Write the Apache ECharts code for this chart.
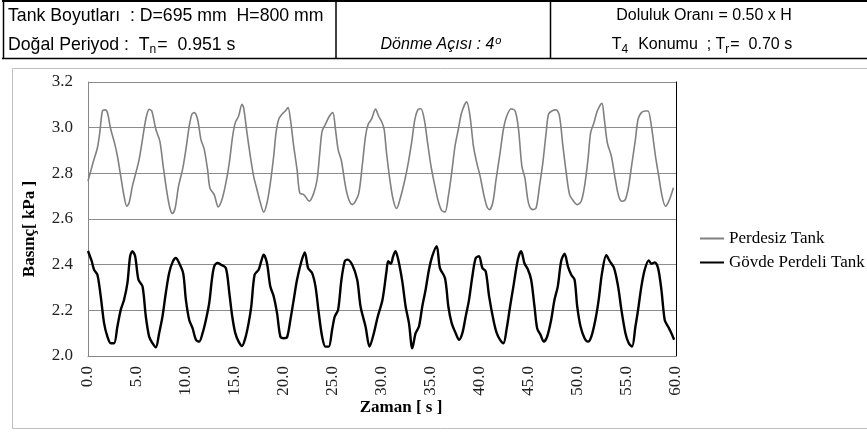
<!DOCTYPE html>
<html>
<head>
<meta charset="utf-8">
<script src="https://cdn.jsdelivr.net/npm/echarts@6/dist/echarts.min.js"></script>
<style>
  html, body { margin: 0; padding: 0; background: #fff; }
  #chart { width: 867px; height: 434px; }
</style>
</head>
<body>
<div id="chart"></div>
<script>
// Time axis (s) and pressure (kPa) samples for each tank configuration
const perdesizTime = [0.0,0.51,0.96,1.2,1.47,1.74,1.98,2.32,2.66,3.0,3.34,3.68,3.96,4.19,4.53,4.88,5.22,5.56,5.9,6.24,6.51,6.92,7.33,7.67,8.01,8.35,8.62,8.9,9.24,9.65,9.99,10.33,10.6,10.84,11.18,11.52,11.86,12.2,12.44,12.88,13.29,13.67,14.07,14.42,14.76,15.03,15.37,15.71,15.88,16.22,16.56,16.9,17.24,17.59,17.93,18.27,18.61,18.95,19.19,19.46,19.8,20.14,20.41,20.65,20.99,21.33,21.61,22.01,22.59,23.04,23.38,23.65,23.89,24.23,24.64,24.98,25.25,25.52,25.86,26.27,26.61,26.96,27.3,27.64,27.98,28.32,28.59,28.93,29.34,29.65,29.98,30.22,30.46,30.8,31.14,31.49,31.83,32.34,32.68,33.02,33.36,33.7,33.97,34.31,34.65,35.0,35.4,35.74,36.08,36.43,36.77,37.11,37.45,37.79,38.13,38.64,38.98,39.33,39.67,40.01,40.35,40.69,40.96,41.3,41.64,42.05,42.39,42.73,43.18,43.59,43.93,44.27,44.58,44.85,45.05,45.39,45.73,46.07,46.41,46.75,46.99,47.33,47.77,48.11,48.46,48.8,49.14,49.48,49.93,50.33,50.67,51.02,51.29,51.63,51.97,52.44,52.65,52.99,53.4,53.81,54.15,54.49,54.83,55.17,55.51,55.86,56.13,56.47,56.88,57.15,57.49,57.9,58.24,58.58,58.92,59.27,59.74];
const perdesizBasinc = [2.766,2.846,2.912,2.978,3.073,3.078,3.066,2.993,2.941,2.876,2.788,2.700,2.656,2.670,2.744,2.802,2.861,2.949,3.037,3.080,3.073,2.993,2.941,2.832,2.729,2.649,2.624,2.649,2.744,2.817,2.905,3.007,3.059,3.066,3.037,2.949,2.905,2.817,2.736,2.707,2.653,2.685,2.758,2.846,2.963,3.022,3.051,3.102,3.088,2.978,2.876,2.788,2.729,2.671,2.630,2.671,2.758,2.876,2.978,3.037,3.059,3.073,3.088,3.037,2.919,2.817,2.714,2.707,2.678,2.714,2.773,2.890,2.985,3.015,3.051,3.066,2.993,2.905,2.854,2.744,2.685,2.663,2.678,2.714,2.832,2.963,3.015,3.037,3.081,3.051,3.025,2.993,2.890,2.773,2.685,2.646,2.685,2.773,2.846,2.934,3.037,3.081,3.083,3.037,2.934,2.832,2.744,2.678,2.638,2.630,2.700,2.802,2.919,2.993,3.066,3.113,3.051,2.919,2.846,2.788,2.714,2.656,2.641,2.671,2.773,2.890,2.993,3.051,3.083,3.073,2.993,2.832,2.780,2.692,2.656,2.641,2.649,2.744,2.846,2.978,3.059,3.073,3.078,3.051,2.919,2.802,2.707,2.682,2.663,2.678,2.744,2.861,2.978,3.022,3.073,3.107,3.051,2.934,2.876,2.773,2.700,2.678,2.685,2.744,2.846,2.949,3.037,3.066,3.073,3.073,3.007,2.876,2.788,2.700,2.656,2.678,2.737];

const perdeliTime = [0.0,0.38,0.62,0.96,1.3,1.64,1.98,2.32,2.66,3.0,3.34,3.68,4.02,4.3,4.53,4.81,5.15,5.56,5.9,6.24,6.58,6.92,7.26,7.6,7.94,8.28,8.62,8.96,9.3,9.71,9.99,10.33,10.67,11.01,11.35,11.69,12.03,12.37,12.64,12.88,13.22,13.56,14.07,14.42,14.72,15.03,15.37,15.71,16.05,16.39,16.66,17.0,17.41,17.68,17.92,18.26,18.6,18.95,19.29,19.63,19.97,20.31,20.65,20.99,21.33,21.78,22.12,22.46,22.87,23.21,23.55,23.89,24.23,24.57,24.91,25.18,25.52,25.86,26.2,26.44,26.96,27.47,27.81,28.32,28.73,29.17,29.55,30.05,30.46,30.63,30.9,31.14,31.37,31.66,32.07,32.41,32.75,33.09,33.43,33.77,34.11,34.45,34.79,35.13,35.58,35.91,36.43,36.77,37.11,37.52,37.86,38.2,38.54,38.88,39.22,39.56,39.9,40.24,40.58,40.93,41.37,41.71,42.05,42.39,42.73,43.07,43.41,43.86,44.2,44.54,44.88,45.22,45.56,45.83,46.17,46.51,46.85,47.26,47.6,47.94,48.28,48.63,48.97,49.31,49.65,49.92,50.26,50.67,51.02,51.36,51.77,52.11,52.45,52.89,53.24,53.68,54.09,54.43,54.84,55.18,55.52,55.86,56.13,56.47,56.81,57.22,57.49,57.83,58.17,58.51,58.85,59.19,59.53,59.81];
const perdeliBasinc = [2.460,2.415,2.378,2.356,2.261,2.144,2.085,2.056,2.056,2.129,2.202,2.246,2.319,2.437,2.459,2.437,2.334,2.305,2.173,2.085,2.056,2.038,2.100,2.173,2.276,2.363,2.410,2.429,2.407,2.363,2.246,2.158,2.122,2.071,2.063,2.100,2.158,2.232,2.334,2.393,2.407,2.400,2.385,2.276,2.173,2.100,2.063,2.044,2.078,2.144,2.217,2.356,2.378,2.415,2.444,2.407,2.305,2.261,2.188,2.085,2.078,2.082,2.158,2.246,2.334,2.415,2.454,2.385,2.363,2.305,2.188,2.085,2.041,2.041,2.115,2.173,2.202,2.334,2.415,2.422,2.400,2.334,2.217,2.129,2.041,2.100,2.170,2.246,2.371,2.415,2.404,2.437,2.459,2.422,2.327,2.217,2.144,2.034,2.100,2.129,2.217,2.290,2.378,2.437,2.481,2.385,2.341,2.217,2.144,2.100,2.071,2.100,2.173,2.246,2.349,2.429,2.437,2.385,2.371,2.261,2.158,2.100,2.071,2.056,2.122,2.217,2.305,2.422,2.459,2.405,2.380,2.334,2.217,2.122,2.093,2.063,2.085,2.158,2.246,2.305,2.415,2.448,2.393,2.356,2.334,2.217,2.129,2.078,2.063,2.085,2.158,2.246,2.363,2.441,2.415,2.385,2.305,2.202,2.100,2.056,2.041,2.129,2.202,2.305,2.378,2.419,2.404,2.410,2.385,2.290,2.158,2.129,2.100,2.071];

const seriesNames = ['Perdesiz Tank', 'Gövde Perdeli Tank'];

const zip = (xs, ys) => xs.map((x, i) => [x, ys[i]]);

const serif = "'Liberation Serif', 'DejaVu Serif', serif";
const sans = "'Liberation Sans', Arial, sans-serif";

const chart = echarts.init(document.getElementById('chart'), null, { renderer: 'canvas' });

const subStyle = { fontSize: 12, fontFamily: sans, fill: '#000', padding: [9, 1, 0, 0] };
const supStyle = { fontSize: 11, fontFamily: sans, fontStyle: 'italic', fill: '#000', padding: [0, 0, 9, 1] };

chart.setOption({
  animation: false,
  backgroundColor: '#fff',
  grid: { left: 88, right: 191, top: 82, bottom: 78, containLabel: false },
  xAxis: {
    type: 'value', min: 0, max: 60, interval: 5,
    axisLine: { show: true, lineStyle: { color: '#868686', width: 1 } },
    axisTick: { show: false },
    splitLine: { show: false },
    axisLabel: {
      rotate: 90, margin: 10, color: '#222',
      fontFamily: serif, fontSize: 17,
      formatter: v => v.toFixed(1)
    }
  },
  yAxis: [{
    type: 'value', min: 2.0, max: 3.2, interval: 0.2,
    axisLine: { show: true, lineStyle: { color: '#868686', width: 1 } },
    axisTick: { show: false },
    splitLine: { show: true, lineStyle: { color: '#8c8c8c', width: 1 } },
    axisLabel: {
      margin: 15, color: '#222', fontFamily: serif, fontSize: 17,
      formatter: v => v.toFixed(1)
    }
  }, {
    type: 'value', min: 2.0, max: 3.2, interval: 0.2, position: 'right',
    axisLine: { show: true, lineStyle: { color: '#000', width: 1 } },
    axisTick: { show: false }, axisLabel: { show: false }, splitLine: { show: false }
  }],
  legend: {
    orient: 'vertical', left: 695, top: 225,
    itemWidth: 24, itemHeight: 2, itemGap: 7,
    textStyle: { fontFamily: serif, fontSize: 17, color: '#000', lineHeight: 17 },
    data: seriesNames.map(n => ({ name: n, icon: 'rect' }))
  },
  series: [{
    name: seriesNames[0], type: 'line', symbol: 'none', smooth: 0.3,
    lineStyle: { color: '#808080', width: 1.6 }, itemStyle: { color: '#808080' },
    data: zip(perdesizTime, perdesizBasinc)
  }, {
    name: seriesNames[1], type: 'line', symbol: 'none', smooth: 0.3,
    lineStyle: { color: '#000', width: 2.4 }, itemStyle: { color: '#000' },
    data: zip(perdeliTime, perdeliBasinc)
  }],
  graphic: [
    // chart frame
    { type: 'rect', silent: true, shape: { x: 12.5, y: 68.5, width: 860, height: 360 },
      style: { fill: 'none', stroke: '#bfbfbf', lineWidth: 1 } },
    // header table
    { type: 'line', silent: true, shape: { x1: 2, y1: 1, x2: 867, y2: 1 }, style: { stroke: '#000', lineWidth: 2 } },
    { type: 'line', silent: true, shape: { x1: 2, y1: 58.5, x2: 867, y2: 58.5 }, style: { stroke: '#000', lineWidth: 1.5 } },
    { type: 'line', silent: true, shape: { x1: 3.5, y1: 1, x2: 3.5, y2: 58.5 }, style: { stroke: '#000', lineWidth: 1.5 } },
    { type: 'line', silent: true, shape: { x1: 336, y1: 1, x2: 336, y2: 58.5 }, style: { stroke: '#000', lineWidth: 1.5 } },
    { type: 'line', silent: true, shape: { x1: 550.5, y1: 1, x2: 550.5, y2: 58.5 }, style: { stroke: '#000', lineWidth: 1.5 } },
    { type: 'text', silent: true, x: 8, y: 16,
      style: { text: 'Tank Boyutları  : D=695 mm  H=800 mm', font: '17.7px ' + sans, fill: '#000', align: 'left', verticalAlign: 'middle' } },
    { type: 'text', silent: true, x: 8, y: 45,
      style: { text: 'Doğal Periyod :  T{sub|n}=  0.951 s', font: '17.7px ' + sans, fill: '#000', align: 'left', verticalAlign: 'middle',
        rich: { sub: subStyle } } },
    { type: 'text', silent: true, x: 441, y: 45,
      style: { text: 'Dönme Açısı : 4{sup|o}', font: 'italic 16px ' + sans, fill: '#000', align: 'center', verticalAlign: 'middle',
        rich: { sup: supStyle } } },
    { type: 'text', silent: true, x: 704, y: 16,
      style: { text: 'Doluluk Oranı = 0.50 x H', font: '16px ' + sans, fill: '#000', align: 'center', verticalAlign: 'middle' } },
    { type: 'text', silent: true, x: 702, y: 45,
      style: { text: 'T{sub|4}  Konumu  ; T{sub|r}=  0.70 s', font: '16px ' + sans, fill: '#000', align: 'center', verticalAlign: 'middle',
        rich: { sub: subStyle } } },
    // axis titles
    { type: 'text', silent: true, x: 30, y: 229, rotation: Math.PI / 2,
      style: { text: 'Basınç[ kPa ]', font: 'bold 17px ' + serif, fill: '#000', align: 'center', verticalAlign: 'middle' } },
    { type: 'text', silent: true, x: 401, y: 408,
      style: { text: 'Zaman [ s ]', font: 'bold 17px ' + serif, fill: '#000', align: 'center', verticalAlign: 'middle' } }
  ]
});
</script>
</body>
</html>
